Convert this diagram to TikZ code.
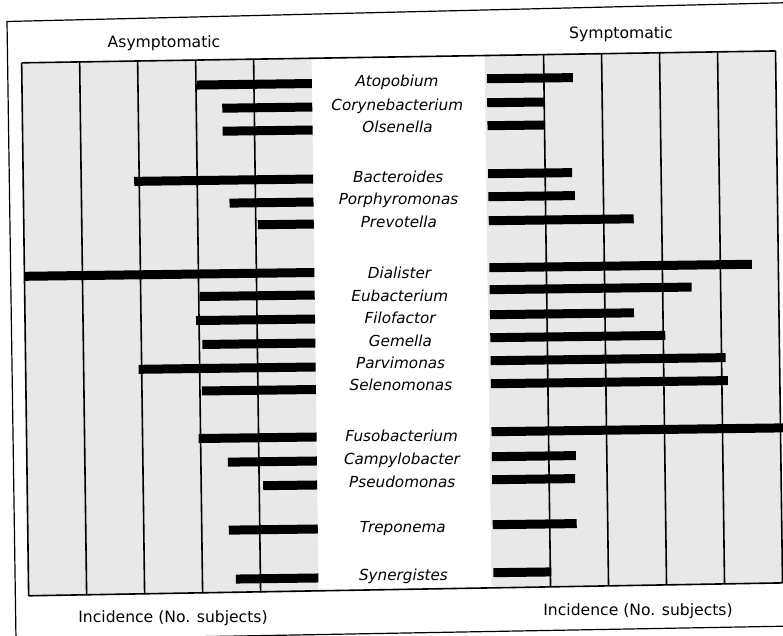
\documentclass[tikz,border=0pt]{standalone}
\usepackage{fontspec}
\setmainfont{DejaVu Sans}
\begin{document}
\begin{tikzpicture}[x=1pt,y=-1pt,
  lab/.style={font=\fontsize{15.2}{16}\selectfont\itshape, inner sep=0pt, anchor=base},
  hdr/.style={font=\fontsize{15.6}{16}\selectfont, inner sep=0pt, anchor=base},
  gridline/.style={line width=1.6pt, black},
  stip/.style={fill=black!9},
  barfill/.style={fill=black}]
\useasboundingbox (0,0) rectangle (783,635);
% outer frame
\draw[line width=1.2pt] (16,640) -- (7,21.5) -- (795,2.5);
\draw[line width=1.2pt] (16,640) -- (795,626);
% headers
\node[hdr] (hasym) at (164,47) {Asymptomatic};
\node[hdr] (hsym) at (621,38) {Symptomatic};
\node[hdr] (incl) at (173,622) {Incidence (No. subjects)};
\node[hdr] (incr) at (638,615) {Incidence (No. subjects)};
\begin{scope}[rotate around={0.75:(391,317)}]
  % stippled panels
  \fill[stip] (25,58) rectangle (315,591);
  \fill[stip] (488,56) -- (779,56) -- (779,588) -- (488,588) -- cycle;
  % grid lines
  \foreach \gx in {83,141,199,257} \draw[gridline] (\gx,58) -- (\gx,591);
  \foreach \gx in {547,605,663,721} \draw[gridline] (\gx,56) -- (\gx,588);
  \draw[gridline] (25,58) -- (25,591);
  \draw[gridline] (779,56) -- (779,588);
  \draw[gridline] (25,58) -- (779,56);
  \draw[gridline] (25,591) -- (779,588);
  % left bars
  \foreach \xa/\yy in {200/82.5, 225/106, 225/129, 136/178, 231/201, 259/223,
      25/271.5, 200/294, 196/318, 202/342, 138/366, 201/388.5,
      197/436, 226/460, 261/484, 226/528, 232.5/577}
    \fill[barfill] (\xa,\yy-4.5) rectangle (315,\yy+4.5);
  % right bars
  \foreach \xb/\yy in {576/80, 547/104, 546.5/127, 574/175, 576.5/198, 635/222,
      752.5/269, 692/291, 634/316, 665/339, 725/362, 727/385,
      800/433, 574/458, 573/481, 574/526, 548/574}
    \fill[barfill] (490,\yy-4.5) rectangle (\xb,\yy+4.5);
  % labels
  \foreach \n/\t/\yy in {la/Atopobium/82, lb/Corynebacterium/106, lc/Olsenella/128,
      ld/Bacteroides/178, le/Porphyromonas/200, lf/Prevotella/223,
      lg/Dialister/274, lh/Eubacterium/297, li/Filofactor/319, lj/Gemella/342,
      lk/Parvimonas/364, ll/Selenomonas/386, lm/Fusobacterium/437,
      ln/Campylobacter/460, lo/Pseudomonas/483, lp/Treponema/528, lq/Synergistes/576}
    \node[lab] (\n) at (400,\yy+5) {\t};
\end{scope}
\end{tikzpicture}
\end{document}
